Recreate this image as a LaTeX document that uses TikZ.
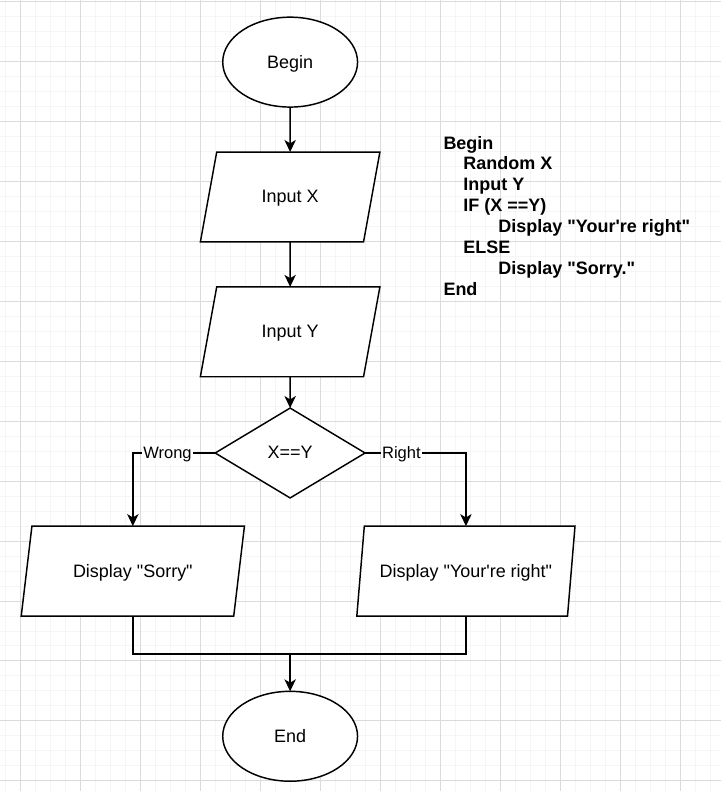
\documentclass[tikz,border=0pt]{standalone}
\usepackage{fontspec}
\setmainfont{Liberation Sans}[Ligatures=TeXOff]
\usetikzlibrary{shapes,arrows,arrows.meta,positioning}

\begin{document}
\begin{tikzpicture}[x=0.75pt,y=-0.75pt]
    \tikzstyle{main}=[draw=black, fill=white, line width=1.1pt, inner sep=0pt, outer sep=0pt, font=\fontsize{13.5}{16}\selectfont, text height=11.6pt, text depth=2.7pt, node distance=33.75pt]
    \tikzstyle{term}=[main, ellipse, minimum width=101.25pt, minimum height=67.5pt]
    \tikzstyle{io}=[main, trapezium, trapezium left angle=71.57, trapezium right angle=108.43, trapezium stretches=true, minimum height=67.5pt]
    \tikzstyle{decision}=[main, diamond, minimum width=112.5pt, minimum height=67.5pt]
    \tikzstyle{connect}=[-{Stealth[length=9pt,width=8.5pt,inset=2.5pt]}, line width=1.1pt]
    \tikzstyle{line}=[line width=1.1pt]
    \tikzstyle{lbl}=[fill=white, inner sep=1pt, font=\fontsize{12.4}{14}\selectfont, text height=10.8pt, text depth=2.3pt]
    \tikzstyle{minor}=[black!4, line width=0.75pt]
    \tikzstyle{major}=[black!14, line width=0.75pt]

    % background grid
    \fill[white] (0,0) rectangle (721,791);
    \foreach \x in {5.5,20.5,...,721} \draw[minor] (\x,0) -- (\x,791);
    \foreach \y in {1.3,16.3,...,791} \draw[minor] (0,\y) -- (721,\y);
    \foreach \x in {20.5,80.5,...,721} \draw[major] (\x,0) -- (\x,791);
    \foreach \y in {1.3,61.3,...,791} \draw[major] (0,\y) -- (721,\y);
    \useasboundingbox (0,0) rectangle (721,791);

      \node[term] (begin) at (290,61.7) {Begin};
      \node[io, minimum width=135pt] (inx) [below=of begin] {Input X};
      \node[io, minimum width=135pt] (iny) [below=of inx] {Input Y};
      \node[decision] (dec) [below=23.5pt of iny] {X==Y};

      \node[io, minimum width=168.75pt] (sorry) at (132.5,571.3) {Display "Sorry"};
      \node[io, minimum width=164pt] (right) at (466,571.3) {Display "Your're right"};
      \coordinate (merge) at (290,654.3);
      \node[term] (end) at (290,736.7) {End};

      % pseudocode
      \node[anchor=north west, inner sep=0pt, align=left, font=\fontsize{13.5}{15.7}\selectfont\bfseries] (code) at (443.3,135.4)
        {Begin\\
         \hspace*{15pt}Random X\\
         \hspace*{15pt}Input Y\\
         \hspace*{15pt}IF (X ==Y)\\
         \hspace*{41.25pt}Display "Your're right"\\
         \hspace*{15pt}ELSE\\
         \hspace*{41.25pt}Display "Sorry."\\
         End};

      \path (begin) edge [connect] (inx);
      \path (inx) edge [connect] (iny);
      \path (iny) edge [connect] (dec);
      \draw[connect] (dec.west) -| node[lbl, pos=0.29] {Wrong} (sorry);
      \draw[connect] (dec.east) -| node[lbl, pos=0.18] {Right} (right);
      \draw[line] (sorry) |- (merge);
      \draw[line] (right) |- (merge);
      \draw[connect] (merge) -- (end);
\end{tikzpicture}
\end{document}
